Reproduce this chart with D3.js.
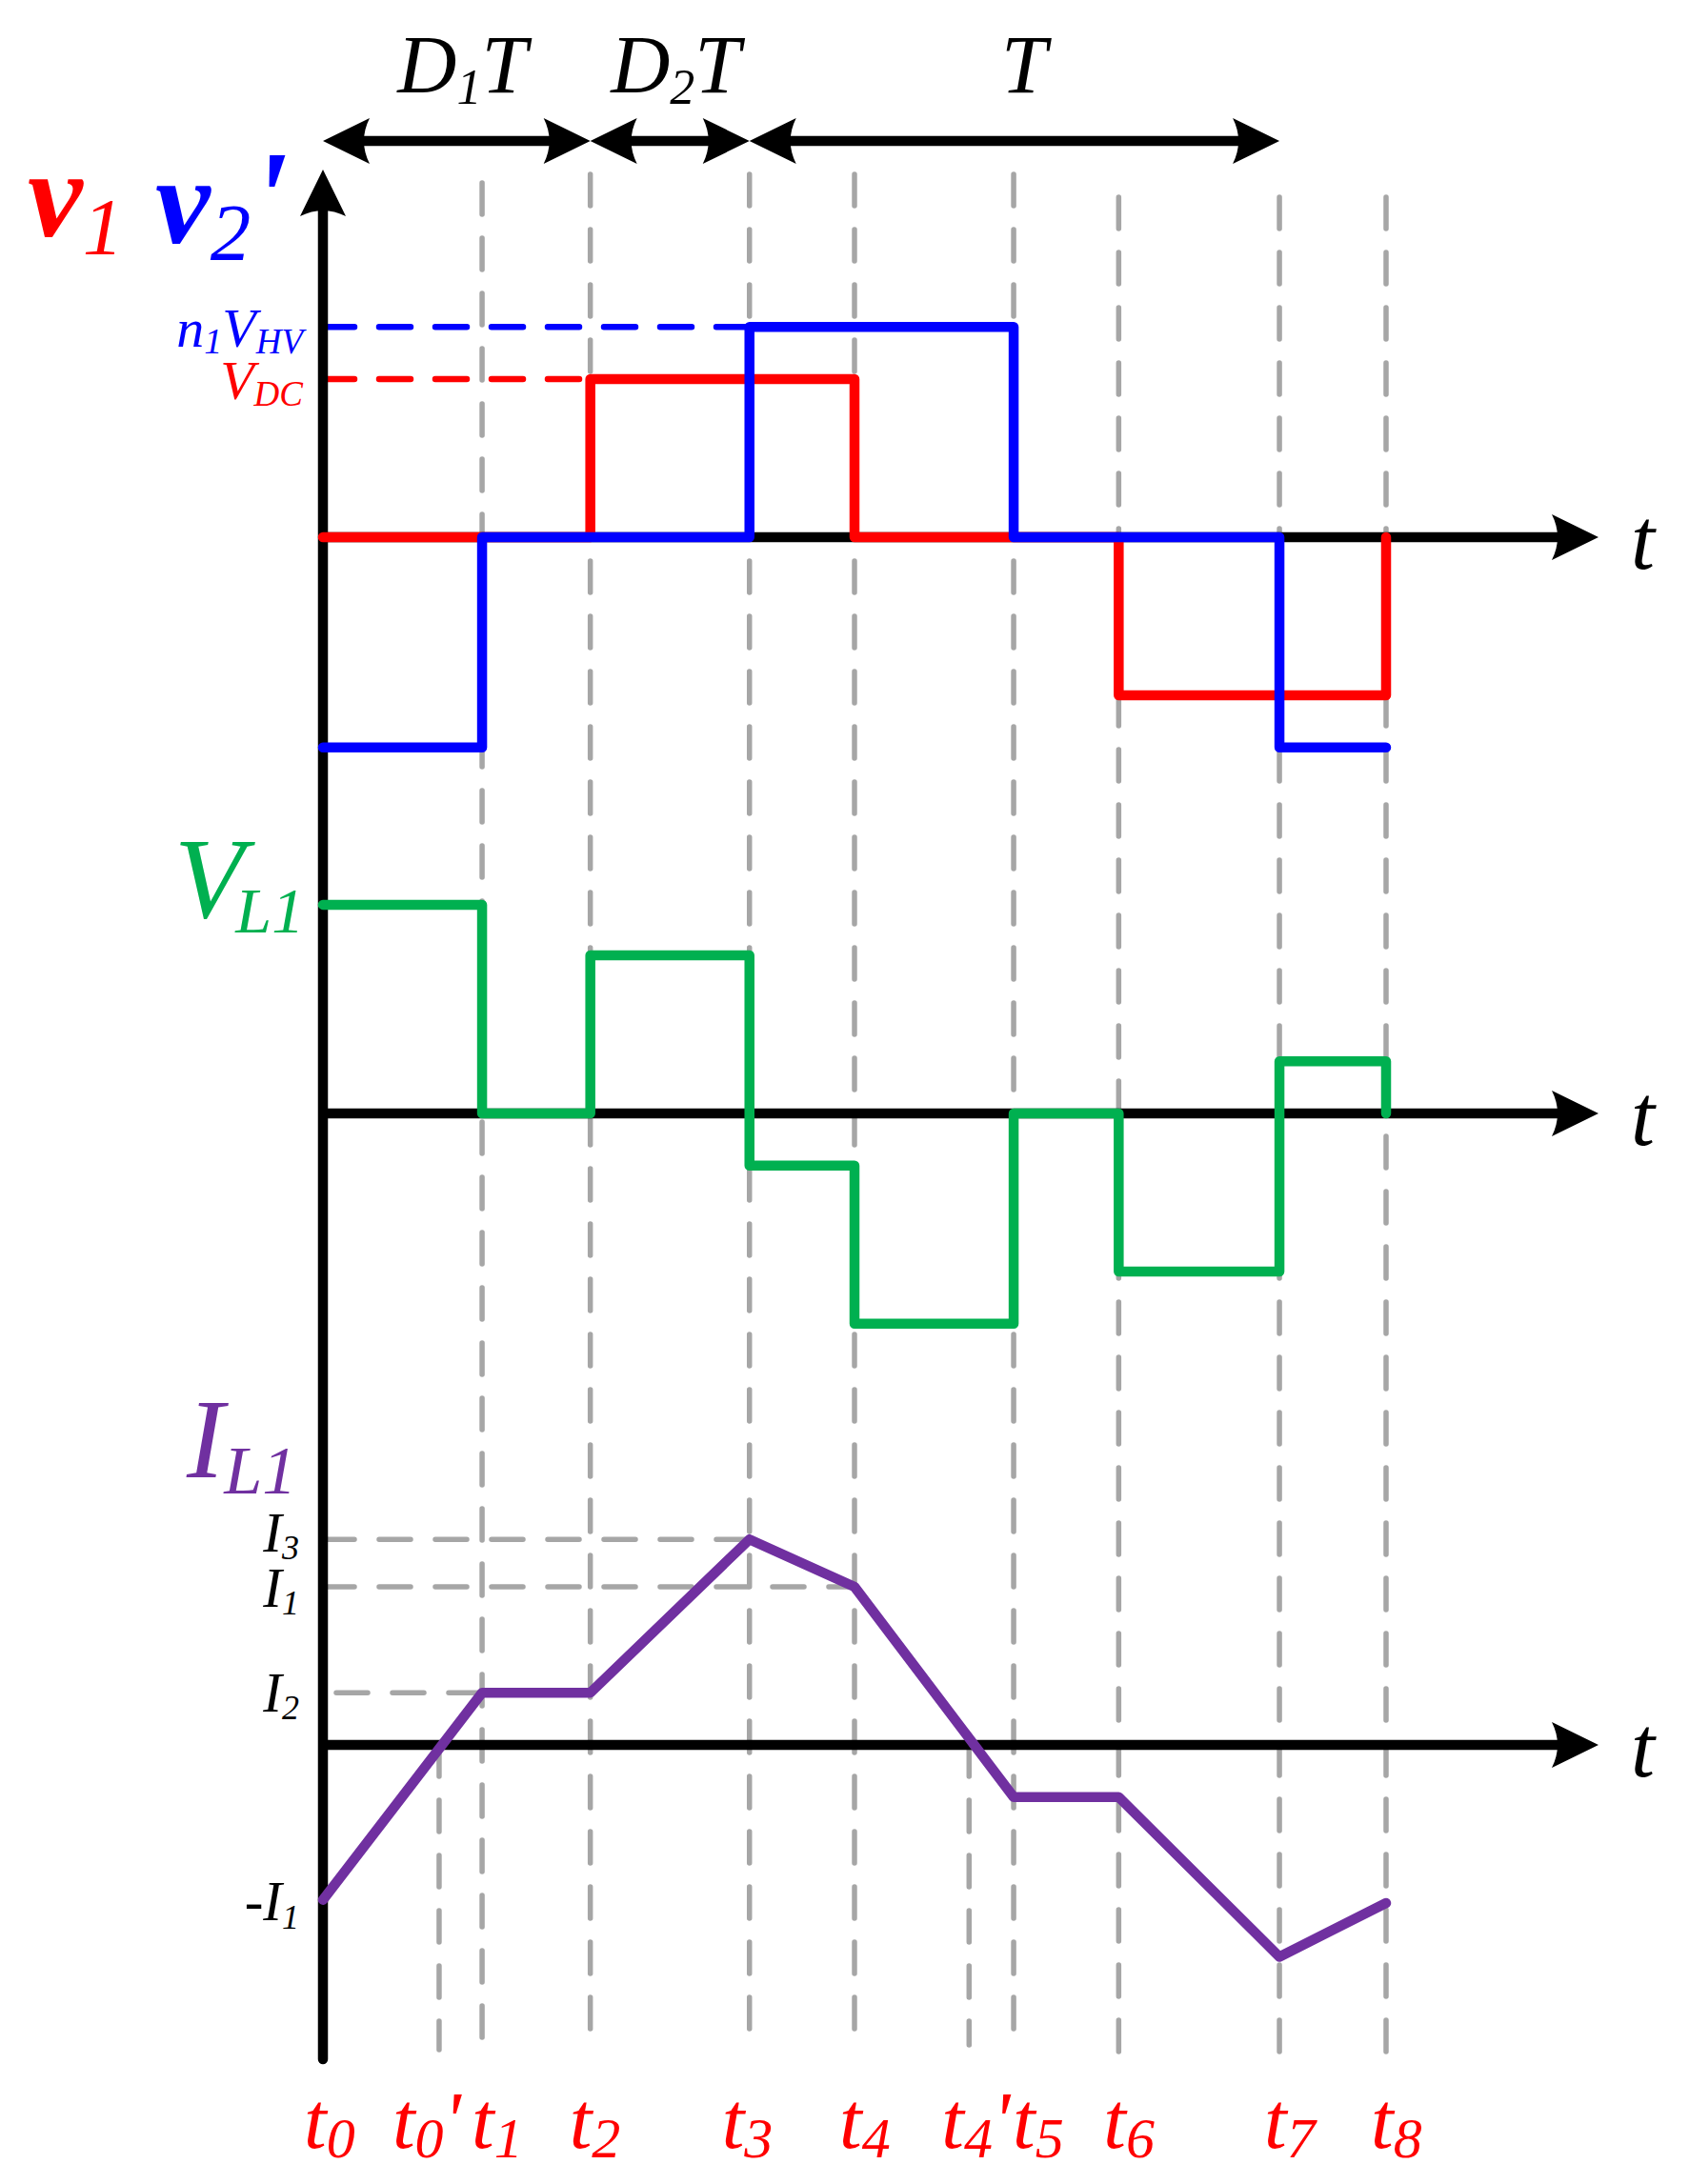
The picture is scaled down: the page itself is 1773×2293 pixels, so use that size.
<!DOCTYPE html>
<html lang="en">
<head>
<meta charset="utf-8" />
<title>Converter waveforms</title>
<script src="https://d3js.org/d3.v7.min.js"></script>
<style>
  body { margin: 0; background: #ffffff; }
  svg text { font-family: "Liberation Serif", "Times New Roman", serif; font-style: italic; }
</style>
</head>
<body>
<div id="chart"></div>
<script>
// switching instants, in units of the t0..t1 interval
var times = [
  {id: "t0",  sub: "0", prime: false, t: 0},
  {id: "t0p", sub: "0", prime: true,  t: 0.73},
  {id: "t1",  sub: "1", prime: false, t: 1},
  {id: "t2",  sub: "2", prime: false, t: 1.68},
  {id: "t3",  sub: "3", prime: false, t: 2.68},
  {id: "t4",  sub: "4", prime: false, t: 3.34},
  {id: "t4p", sub: "4", prime: true,  t: 4.06},
  {id: "t5",  sub: "5", prime: false, t: 4.34},
  {id: "t6",  sub: "6", prime: false, t: 5.0},
  {id: "t7",  sub: "7", prime: false, t: 6.01},
  {id: "t8",  sub: "8", prime: false, t: 6.68}
];

// waveforms: instant ids + values (per unit of VDC / I1)
var v1At  = ["t0", "t2", "t4", "t6", "t8"];
var v1Val = [0, 1, 0, -1, 0];
var v2At  = ["t0", "t1", "t3", "t5", "t7", "t8"];
var v2Val = [-1.33, 0, 1.33, 0, -1.33, -1.33];
var vL1At  = ["t0", "t1", "t2", "t3", "t4", "t5", "t6", "t7", "t8"];
var vL1Val = [1.32, 0, 1, -0.33, -1.33, 0, -1, 0.33, 0];
var iL1At  = ["t0", "t1", "t2", "t3", "t4", "t5", "t6", "t7", "t8"];
var iL1Val = [-0.98, 0.33, 0.33, 1.3, 1, -0.33, -0.33, -1.34, -1.0];

// dashed reference levels
var vLevels = [
  {main: "V", sub: "DC", pre: "",  pre1: "",  v: 1,    until: "t2", color: "#ff0000"},
  {main: "V", sub: "HV", pre: "n", pre1: "1", v: 1.33, until: "t3", color: "#0000ff"}
];
var iLevels = [
  {sub: "3", v: 1.3,  until: "t3"},
  {sub: "1", v: 1,    until: "t4"},
  {sub: "2", v: 0.33, until: "t1"}
];

// duration arrows at the top
var spans = [
  {main: "D", sub: "1", from: "t0", to: "t2"},
  {main: "D", sub: "2", from: "t2", to: "t3"},
  {main: "",  sub: "",  from: "t3", to: "t7"}
];

var RED = "#ff0000", BLUE = "#0000ff", GREEN = "#00b050", PURPLE = "#7030a0", GREY = "#a6a6a6";

var W = 1773, H = 2293;
var svg = d3.select("#chart").append("svg")
            .attr("width", W)
            .attr("height", H);
svg.append("rect").attr("width", W).attr("height", H).attr("fill", "#ffffff");

var x  = d3.scaleLinear().domain([0, 6.68]).range([339, 1455]);
var yV = d3.scaleLinear().domain([0, 1]).range([564, 398]);
var yL = d3.scaleLinear().domain([0, 1]).range([1169, 1003]);
var yI = d3.scaleLinear().domain([0, 1]).range([1832, 1666]);

var tAt = {};
times.forEach(function(d) { tAt[d.id] = d.t; });

function series(at, val) {
  return at.map(function(id, i) { return [tAt[id], val[i]]; });
}

// text with sub/superscript pieces
function label(parent, px, py, parts, anchor, color) {
  var txt = parent.append("text")
                  .attr("x", px)
                  .attr("y", py)
                  .attr("fill", color)
                  .attr("text-anchor", anchor || "start");
  var shift = 0;
  parts.forEach(function(p) {
    var target = p.dy || 0;
    txt.append("tspan")
       .attr("dx", p.dx || 0)
       .attr("dy", target - shift)
       .style("font-size", p.size + "px")
       .style("font-weight", p.bold ? "bold" : "normal")
       .text(p.s);
    shift = target;
  });
  return txt;
}

function arrowHead(px, py, angle) {
  svg.append("path")
     .attr("d", "M0,0 L-49,-24 Q-37,0 -49,24 Z")
     .attr("fill", "#000")
     .attr("transform", "translate(" + px + "," + py + ") rotate(" + angle + ")");
}

// vertical grey guides
var guideTop = {t1: 192, t6: 207, t7: 207, t8: 207};
var guideBottom = {t0p: 2152, t1: 2149, t4p: 2147, t6: 2166, t7: 2165, t8: 2167};
svg.append("g").selectAll("line")
   .data(times.filter(function(d) { return d.id !== "t0"; }))
   .enter().append("line")
   .attr("x1", function(d) { return x(d.t); })
   .attr("x2", function(d) { return x(d.t); })
   .attr("y1", function(d) { return d.prime ? yI(0) : (guideTop[d.id] || 183); })
   .attr("y2", function(d) { return guideBottom[d.id] || 2142; })
   .attr("stroke", GREY)
   .attr("stroke-width", 5.5)
   .attr("stroke-linecap", "round")
   .attr("stroke-dasharray", "33,25");

// horizontal dashed levels
svg.append("g").selectAll("line")
   .data(vLevels)
   .enter().append("line")
   .attr("x1", x(0)).attr("x2", function(d) { return x(tAt[d.until]); })
   .attr("y1", function(d) { return yV(d.v); })
   .attr("y2", function(d) { return yV(d.v); })
   .attr("stroke", function(d) { return d.color; })
   .attr("stroke-width", 6.5)
   .attr("stroke-linecap", "round")
   .attr("stroke-dasharray", "33,26");

svg.append("g").selectAll("line")
   .data(iLevels)
   .enter().append("line")
   .attr("x1", function(d) { return d.v < 0.5 ? x(0) + 14 : x(0); })
   .attr("x2", function(d) { return x(tAt[d.until]); })
   .attr("y1", function(d) { return yI(d.v); })
   .attr("y2", function(d) { return yI(d.v); })
   .attr("stroke", GREY)
   .attr("stroke-width", 5.5)
   .attr("stroke-linecap", "round")
   .attr("stroke-dasharray", "33,26");

// axes
var axisEnd = 1678;
svg.append("line")
   .attr("x1", x(0)).attr("x2", x(0))
   .attr("y1", 2162).attr("y2", 205)
   .attr("stroke", "#000").attr("stroke-width", 10.5).attr("stroke-linecap", "round");
arrowHead(x(0), 178, -90);

[yV, yL, yI].forEach(function(y) {
  svg.append("line")
     .attr("x1", x(0)).attr("x2", axisEnd - 30)
     .attr("y1", y(0)).attr("y2", y(0))
     .attr("stroke", "#000").attr("stroke-width", 10.5);
  arrowHead(axisEnd, y(0), 0);
  label(svg, 1712, y(0) + 33, [{s: "t", size: 90}], "start", "#000");
});

// duration arrows
var spanY = 148;
spans.forEach(function(d) {
  var a = x(tAt[d.from]), b = x(tAt[d.to]);
  svg.append("line")
     .attr("x1", a + 20).attr("x2", b - 20)
     .attr("y1", spanY).attr("y2", spanY)
     .attr("stroke", "#000").attr("stroke-width", 10.5);
  arrowHead(a, spanY, 180);
  arrowHead(b, spanY, 0);
  var parts = d.main ? [{s: d.main, size: 86}, {s: d.sub, size: 52, dy: 12}, {s: "T", size: 86}]
                     : [{s: "T", size: 86}];
  label(svg, (a + b) / 2 + (d.main ? 6 : 10), 97, parts, "middle", "#000");
});

// waveforms
function step(y) {
  return d3.line().x(function(d) { return x(d[0]); })
                  .y(function(d) { return y(d[1]); })
                  .curve(d3.curveStepAfter);
}
var wave = svg.append("g")
              .attr("fill", "none")
              .attr("stroke-width", 10.5)
              .attr("stroke-linejoin", "round")
              .attr("stroke-linecap", "round");
wave.append("path").attr("d", step(yV)(series(v1At, v1Val))).attr("stroke", RED);
wave.append("path").attr("d", step(yV)(series(v2At, v2Val))).attr("stroke", BLUE);
wave.append("path").attr("d", step(yL)(series(vL1At, vL1Val))).attr("stroke", GREEN);
wave.append("path")
    .attr("d", d3.line().x(function(d) { return x(d[0]); })
                        .y(function(d) { return yI(d[1]); })(series(iL1At, iL1Val)))
    .attr("stroke", PURPLE);

// signal names
label(svg, 29, 248, [{s: "v", size: 130, bold: true}, {s: "1", size: 85, dy: 19}], "start", RED);
label(svg, 163, 255, [{s: "v", size: 130, bold: true}, {s: "2", size: 85, dy: 18}, {s: "'", size: 140, bold: true}], "start", BLUE);
label(svg, 183, 963, [{s: "V", size: 120}, {s: "L1", size: 68, dy: 16, dx: -9}], "start", GREEN);
label(svg, 196, 1551, [{s: "I", size: 118}, {s: "L1", size: 72, dy: 17}], "start", PURPLE);

// level names
vLevels.forEach(function(d) {
  var parts = [];
  if (d.pre) { parts.push({s: d.pre, size: 58}); parts.push({s: d.pre1, size: 38, dy: 7}); }
  parts.push({s: d.main, size: 58});
  parts.push({s: d.sub, size: 37, dy: 7});
  label(svg, 318, yV(d.v) + 21, parts, "end", d.color);
});
var iBase = {"3": 13, "1": 21, "2": 20};
iLevels.forEach(function(d) {
  label(svg, 314, yI(d.v) + iBase[d.sub], [{s: "I", size: 59}, {s: d.sub, size: 36, dy: 8}], "end", "#000");
});
label(svg, 314, yI(iL1Val[0]) + 21, [{s: "-I", size: 59}, {s: "1", size: 36, dy: 9}], "end", "#000");

// instant names along the bottom
var labelNudge = {t0: -4, t0p: -33, t1: 5, t2: -6, t3: -13, t4p: -13, t5: 15};
times.forEach(function(d) {
  var parts = [{s: "t", size: 85}, {s: d.sub, size: 60, dy: 10}];
  if (d.prime) parts.push({s: "'", size: 85});
  label(svg, x(d.t) - 16 + (labelNudge[d.id] || 0), 2255, parts, "start", RED);
});
</script>
</body>
</html>
